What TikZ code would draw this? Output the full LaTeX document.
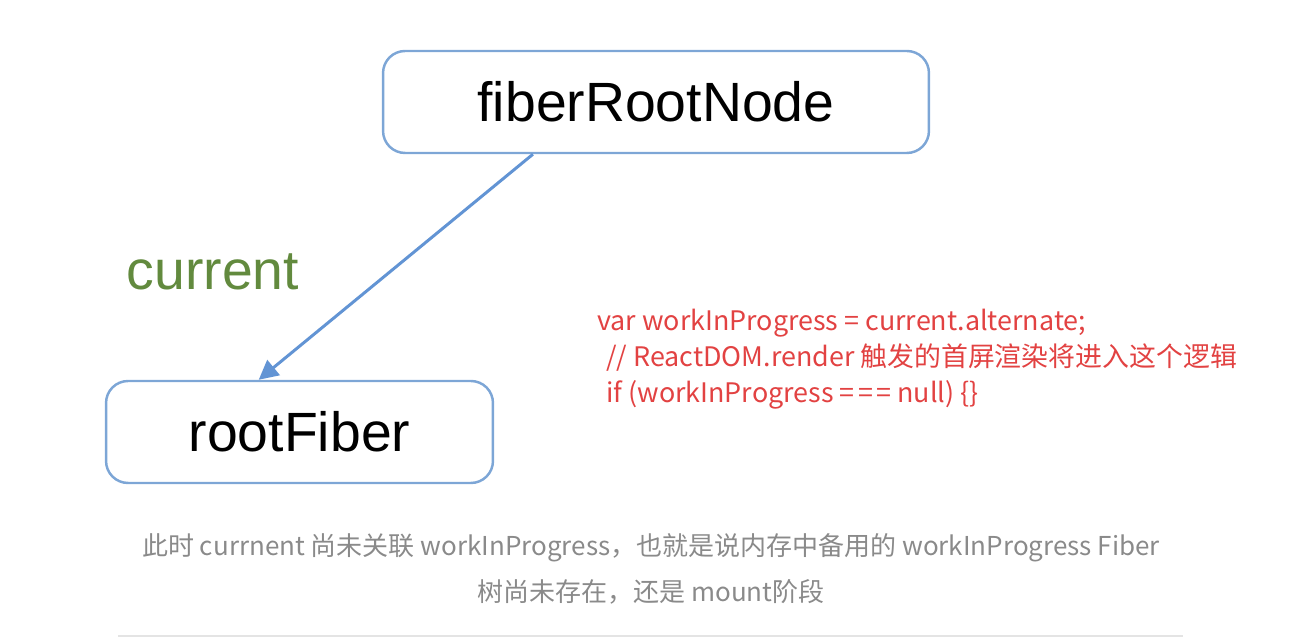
\documentclass[tikz,border=0pt]{standalone}
\usepackage{fontspec}
\setmainfont{Liberation Sans}
\newfontfamily\cjkfont{Noto Sans CJK SC}
\usetikzlibrary{arrows.meta}
\definecolor{boxblue}{RGB}{125,166,214}
\definecolor{arrowblue}{RGB}{98,148,212}
\definecolor{curgreen}{RGB}{98,138,62}
\definecolor{codered}{RGB}{226,66,66}
\definecolor{capgray}{RGB}{138,138,138}
\definecolor{rulegray}{RGB}{228,228,228}

\begin{document}
\begin{tikzpicture}[x=0.02cm,y=-0.02cm,
  fiberbox/.style={draw=boxblue,line width=1.4pt,rounded corners=0.44cm,
    minimum height=2.04cm,inner sep=0pt,font=\fontsize{31.5}{36}\selectfont},
  pointer/.style={draw=arrowblue,line width=1.7pt,-{Triangle[length=11pt,width=11pt]}},
  codeline/.style={anchor=base west,inner sep=0pt,text=codered,
    font=\cjkfont\fontsize{15.3}{18}\selectfont},
  capline/.style={anchor=base,inner sep=0pt,text=capgray,
    font=\cjkfont\fontsize{14.8}{18}\selectfont}]
 \useasboundingbox (0,0) rectangle (1298,644);
 \node[fiberbox,minimum width=10.92cm] (fiber) at (656,102) {fiberRootNode};
 \node[fiberbox,minimum width=7.74cm] (root) at (299.5,432) {rootFiber};
 \draw[pointer] (fiber.203) -- (root.128);
 \node[text=curgreen,font=\fontsize{31.5}{36}\selectfont] (curlabel) at (213,272) {current};
 \node[codeline] (code1) at (597,331) {var workInProgress = current.alternate;};
 \node[codeline] (code2) at (606,367) {// ReactDOM.render 触发的首屏渲染将进入这个逻辑};
 \node[codeline] (code3) at (606,403) {if (workInProgress =\kern2pt=\kern2pt= null) \{\}};
 \node[capline] (cap1) at (651,556) {此时 currnent 尚未关联 workInProgress，也就是说内存中备用的 workInProgress Fiber};
 \node[capline] (cap2) at (651,602) {树尚未存在，还是 mount阶段};
 \draw[rulegray,line width=1.1pt] (118,636) -- (1183,636);
\end{tikzpicture}
\end{document}
